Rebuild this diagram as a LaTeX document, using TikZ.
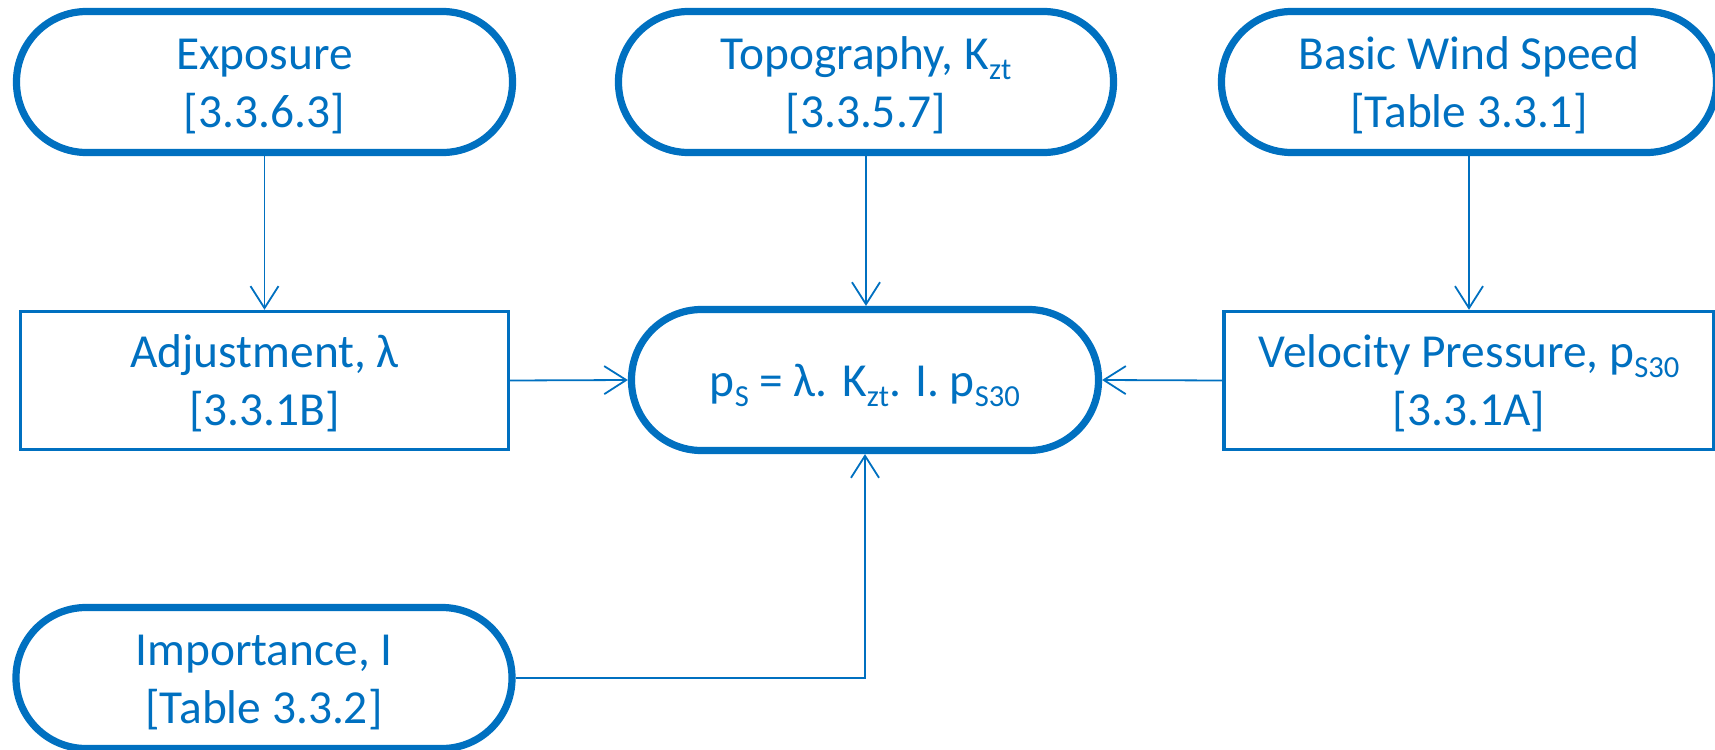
\documentclass[tikz,border=0pt]{standalone}
\usepackage{fontspec}
\setmainfont{Carlito}
\usetikzlibrary{arrows.meta}
\definecolor{ofblue}{HTML}{0070C0}
\newcommand\sbs[1]{\raisebox{-5pt}{\fontsize{15.3}{15.3}\selectfont #1}}
\newcommand\txt[1]{\raisebox{-2.4pt}[\height][\depth]{\begin{tabular}{@{}c@{}}#1\end{tabular}}}
\begin{document}
\begin{tikzpicture}[x=0.5pt,y=-0.5pt,
  every node/.style={text=ofblue, font=\fontsize{23.7}{29}\selectfont, inner sep=0pt},
  pill/.style={draw=ofblue, line width=3.6pt, rounded corners=35pt, minimum height=70.5pt, minimum width=248pt},
  boxnode/.style={draw=ofblue, line width=1.7pt, minimum height=69pt, minimum width=244pt},
  conn/.style={draw=ofblue, line width=0.9pt, -{Straight Barb[length=11pt,width=14pt]}}]
\useasboundingbox (0,0) rectangle (1715,750);
\node[pill] (exp) at (264.5,82) {\txt{Exposure\\{}[3.3.6.3]}};
\node[pill, minimum width=247.5pt] (topo) at (866,82) {\txt{Topography, K\sbs{zt}\\{}[3.3.5.7]}};
\node[pill, minimum width=247.5pt] (bws) at (1469,82) {\txt{Basic Wind Speed\\{}[Table 3.3.1]}};
\node[boxnode] (adj) at (264.5,380.5) {\txt{Adjustment, λ\\{}[3.3.1B]}};
\node[pill, minimum width=233.5pt] (ctr) at (865,380) {\txt{p\sbs{S} = λ. K\sbs{zt}. I. p\sbs{S30}}};
\node[boxnode, minimum width=245pt] (vel) at (1469,380.5) {\txt{Velocity Pressure, p\sbs{S30}\\{}[3.3.1A]}};
\node[pill] (imp) at (264,678) {\txt{Importance, I\\{}[Table 3.3.2]}};
\draw[conn] (exp.south) -- (adj.north);
\draw[conn] (topo.south) -- (topo.south |- ctr.north);
\draw[conn] (bws.south) -- (vel.north);
\draw[conn] (adj.east) -- (ctr.west);
\draw[conn] (vel.west) -- (ctr.east);
\draw[conn] (imp.east) -| (ctr.south);
\end{tikzpicture}
\end{document}
